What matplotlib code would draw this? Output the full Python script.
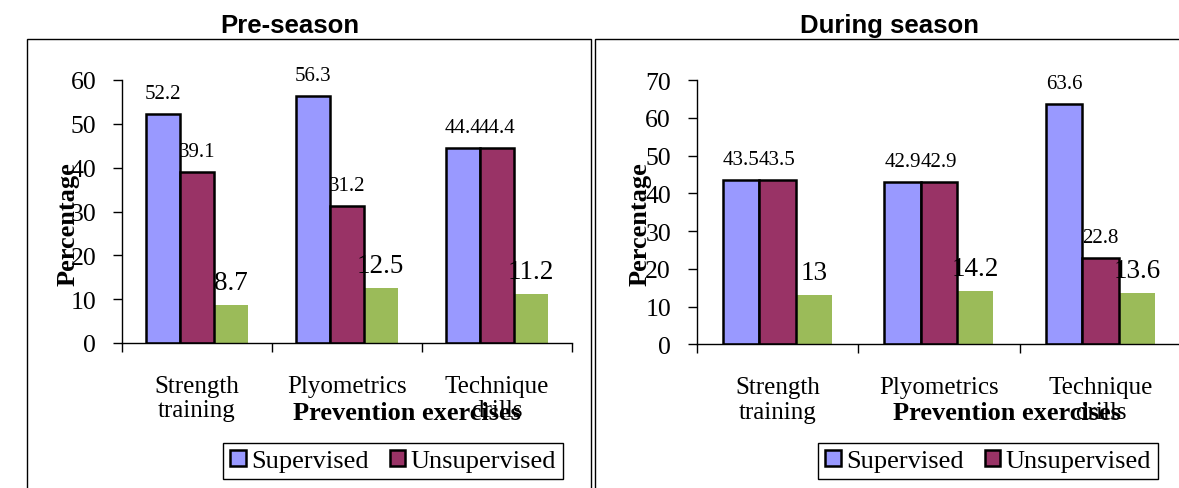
import matplotlib.pyplot as plt
from matplotlib.patches import Rectangle, Patch

# data
categories = ['Strength\ntraining', 'Plyometrics', 'Technique\ndrills']
pre_supervised = [52.2, 56.3, 44.4]
pre_unsupervised = [39.1, 31.2, 44.4]
pre_third = [8.7, 12.5, 11.2]
during_supervised = [43.5, 42.9, 63.6]
during_unsupervised = [43.5, 42.9, 22.8]
during_third = [13, 14.2, 13.6]

blue = '#9999FF'
plum = '#993366'
green = '#9BBB59'
serif = 'Liberation Serif'
sans = 'Liberation Sans'

W, H = 1179, 489
fig = plt.figure(figsize=(W / 100, H / 100), dpi=100)


def px(x, y):
    return x / W, 1 - y / H


def draw_panel(ax, sup, unsup, third, ymax):
    bw = 0.225
    xs = [i + 0.5 for i in range(len(categories))]
    ax.bar([x - bw for x in xs], sup, bw, color=blue, edgecolor='black', linewidth=1.8, zorder=2)
    ax.bar(xs, unsup, bw, color=plum, edgecolor='black', linewidth=1.8, zorder=2)
    ax.bar([x + bw for x in xs], third, bw, color=green, linewidth=0, zorder=1)
    for vals, dx, fs in [(sup, -bw, 15), (unsup, 0, 15), (third, bw, 19.5)]:
        for x, v in zip(xs, vals):
            ax.annotate(f'{v:g}', (x + dx, v), xytext=(0, 11.5), textcoords='offset points',
                        ha='center', va='baseline', fontsize=fs, family=serif)
    ax.set_xlim(0, 3)
    ax.set_ylim(0, ymax)
    ax.set_yticks(range(0, ymax + 1, 10))
    ax.set_xticks([0, 1, 2, 3])
    ax.set_xticklabels([])
    ax.set_xticks(xs, minor=True)
    ax.set_xticklabels(categories, minor=True, fontsize=18, family=serif)
    for lab in ax.get_xticklabels(minor=True):
        lab.set_linespacing(1.15)
    for lab in ax.get_yticklabels():
        lab.set_family(serif)
        lab.set_fontsize(18.5)
    ax.tick_params(axis='x', which='major', direction='out', length=6.5, width=1)
    ax.tick_params(axis='x', which='minor', length=0, pad=23)
    ax.tick_params(axis='y', direction='out', length=6.5, width=1, pad=12)
    for s in ['top', 'right']:
        ax.spines[s].set_visible(False)
    for s in ['left', 'bottom']:
        ax.spines[s].set_linewidth(1.0)
    ax.set_facecolor('none')


# panel frames
fig.add_artist(Rectangle(px(27, 600), (591 - 27) / W, (600 - 40) / H, transform=fig.transFigure,
                         fill=False, edgecolor='black', linewidth=1))
fig.add_artist(Rectangle(px(595, 600), (1200 - 595) / W, (600 - 40) / H, transform=fig.transFigure,
                         fill=False, edgecolor='black', linewidth=1))

ax1 = fig.add_axes([122 / W, 1 - 344 / H, 450 / W, (344 - 81) / H])
draw_panel(ax1, pre_supervised, pre_unsupervised, pre_third, 60)
ax2 = fig.add_axes([696.7 / W, 1 - 345.3 / H, 484.5 / W, (345.3 - 81) / H])
draw_panel(ax2, during_supervised, during_unsupervised, during_third, 70)

# titles and axis labels
fig.text(*px(290, 26), 'Pre-season', ha='center', va='center', fontsize=18.5, fontweight='bold', family=sans)
fig.text(*px(889, 26), 'During season', ha='center', va='center', fontsize=18.5, fontweight='bold', family=sans)
for x in [68, 640]:
    fig.text(*px(x, 224.5), 'Percentage', rotation=90, ha='center', va='center',
             fontsize=19, fontweight='bold', family=serif)
for x in [407, 1007]:
    fig.text(*px(x, 413), 'Prevention exercises', ha='center', va='center',
             fontsize=19, fontweight='bold', family=serif)

handles = [Patch(facecolor=blue, edgecolor='black', linewidth=1.8, label='Supervised'),
           Patch(facecolor=plum, edgecolor='black', linewidth=1.8, label='Unsupervised')]
for cx in [393, 988]:
    fig.legend(handles=handles, loc='center', bbox_to_anchor=px(cx, 462), ncol=2,
               prop={'family': serif, 'size': 19}, frameon=True, fancybox=False,
               edgecolor='black', framealpha=1, handlelength=0.6, handleheight=0.6,
               handletextpad=0.2, columnspacing=0.8, borderpad=0.25, borderaxespad=0)
for leg in fig.legends:
    leg.get_frame().set_linewidth(1)

fig.savefig('out.png', dpi=100)
